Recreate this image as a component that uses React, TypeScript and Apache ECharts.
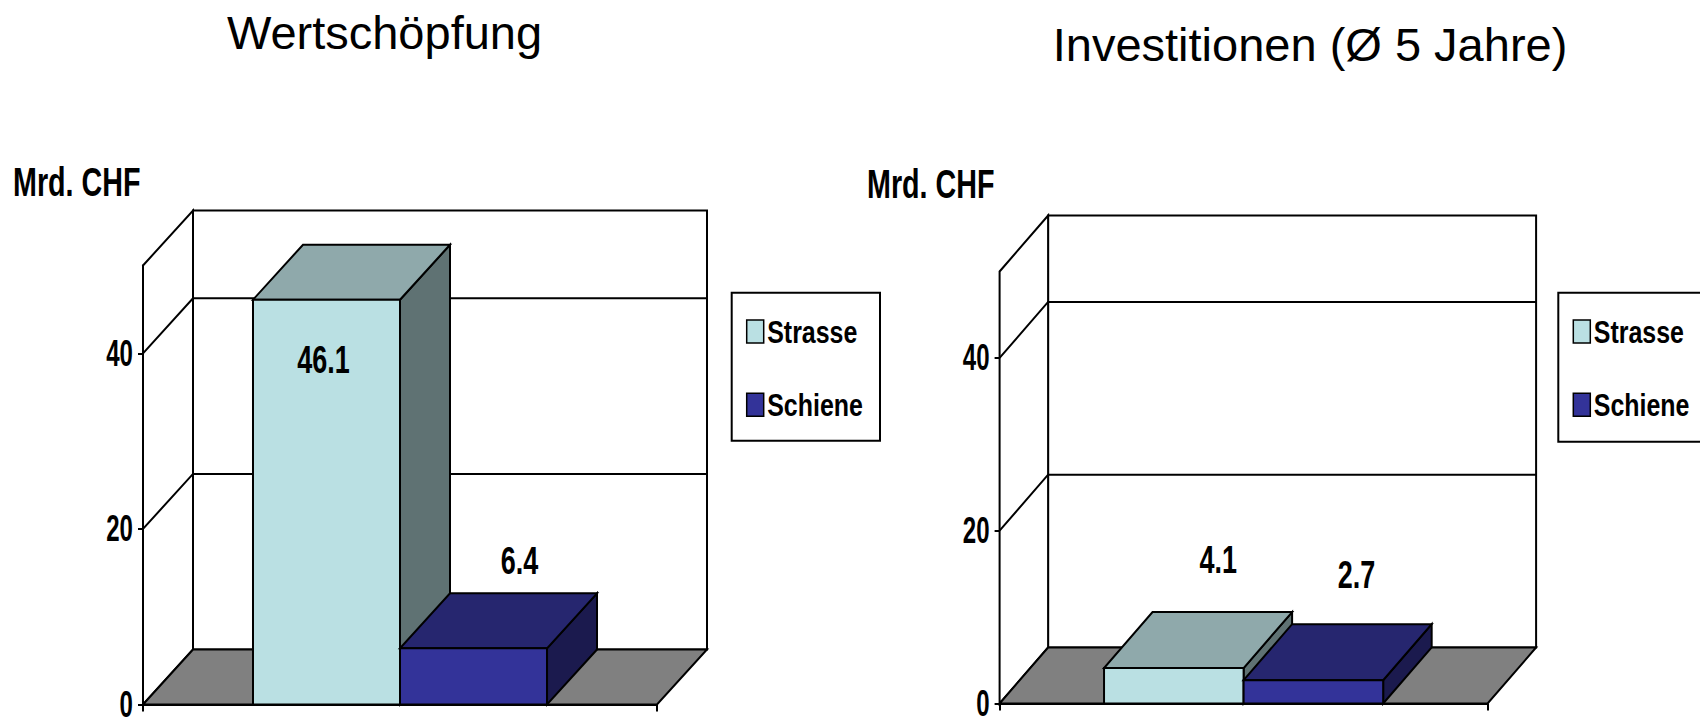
import React, { useEffect, useRef } from "react";
import * as echarts from "echarts";

// ---- data ----
const categories = [""];
const seriesNames = ["Strasse", "Schiene"];
const wertschoepfungStrasse = [46.1];
const wertschoepfungSchiene = [6.4];
const investitionenStrasse = [4.1];
const investitionenSchiene = [2.7];
const yTickValues = [0, 20, 40];
const yGridValues = [20, 40];
const yMax = 50;
const unitLabel = "Mrd. CHF";

// ---- styling ----
// Bold labels are set in a condensed look by squeezing Liberation Sans Bold horizontally.
const BOLD = "'Liberation Sans', Arial, sans-serif";
const REGULAR = "'Liberation Sans', Arial, sans-serif";
const faceColors = [
  { front: "#BAE0E3", top: "#8FA9AB", side: "#5F7273" },
  { front: "#333399", top: "#26266F", side: "#1B1A4E" },
];
const FLOOR = "#808080";
const EDGE = 2;
const BAR_RATIO = 0.286;

const panels = [
  {
    title: "Wertschöpfung",
    titlePos: [384.5, 32],
    unitPos: [13, 182],
    grid: { left: 143, top: 265.5, width: 514, height: 439 },
    depth: [50, -55],
    values: [wertschoepfungStrasse, wertschoepfungSchiene],
    labelOffsets: [[-3, 60], [46, -88]],
    legendBox: [731.7, 292.7, 148.3, 148],
  },
  {
    title: "Investitionen (Ø 5 Jahre)",
    titlePos: [1310, 44],
    unitPos: [867, 184],
    grid: { left: 999.6, top: 271.5, width: 488, height: 432 },
    depth: [48.5, -56],
    values: [investitionenStrasse, investitionenSchiene],
    labelOffsets: [[44.5, -108], [43, -105]],
    legendBox: [1558.3, 292.7, 160, 149],
  },
];

function boldText(text: string, x: number, y: number, size: number, squeeze: number, align: string) {
  return {
    type: "text",
    x,
    y,
    scaleX: squeeze,
    style: {
      text,
      fill: "#000",
      fontSize: size,
      fontWeight: "bold",
      fontFamily: BOLD,
      align,
      verticalAlign: "middle",
      textAlign: align,
      textVerticalAlign: "middle",
    },
  };
}

function frameRenderer(depth: number[]) {
  return (params: any, api: any) => {
    const cs = params.coordSys;
    const gx = cs.x, gy = cs.y, gw = cs.width, gh = cs.height;
    const [dx, dy] = depth;
    const line = { stroke: "#000", lineWidth: EDGE };
    const children: any[] = [
      {
        type: "rect",
        shape: { x: gx + dx, y: gy + dy, width: gw, height: gh },
        style: { fill: "#fff", ...line },
      },
      {
        type: "polygon",
        shape: { points: [[gx, gy], [gx + dx, gy + dy], [gx + dx, gy + gh + dy], [gx, gy + gh]] },
        style: { fill: "#fff", ...line },
      },
      {
        type: "polygon",
        shape: {
          points: [[gx, gy + gh], [gx + gw, gy + gh], [gx + gw + dx, gy + gh + dy], [gx + dx, gy + gh + dy]],
        },
        style: { fill: FLOOR, ...line },
      },
    ];
    yGridValues.forEach((v) => {
      const y = api.coord([0, v])[1];
      children.push({
        type: "polyline",
        shape: { points: [[gx, y], [gx + dx, y + dy], [gx + gw + dx, y + dy]] },
        style: { fill: null, ...line },
      });
    });
    // value-axis tick labels, placed by the axis scale
    yTickValues.forEach((v) => {
      const y = api.coord([0, v])[1];
      children.push(boldText(String(v), gx - 10, y, 37, 0.65, "right"));
    });
    return { type: "group", children };
  };
}

function barRenderer(seriesIdx: number, nSeries: number, depth: number[], labelOffset: number[]) {
  const c = faceColors[seriesIdx];
  return (params: any, api: any) => {
    const cat = api.value(0);
    const val = api.value(1);
    const base = api.coord([cat, 0]);
    const top = api.coord([cat, val]);
    const bw = api.size([1, 0])[0] * BAR_RATIO;
    const x0 = base[0] - (bw * nSeries) / 2 + seriesIdx * bw;
    const x1 = x0 + bw;
    const yb = base[1];
    const yt = top[1];
    const [dx, dy] = depth;
    const line = { stroke: "#000", lineWidth: EDGE };
    return {
      type: "group",
      children: [
        {
          type: "polygon",
          shape: { points: [[x1, yt], [x1 + dx, yt + dy], [x1 + dx, yb + dy], [x1, yb]] },
          style: { fill: c.side, ...line },
        },
        {
          type: "polygon",
          shape: { points: [[x0, yt], [x1, yt], [x1 + dx, yt + dy], [x0 + dx, yt + dy]] },
          style: { fill: c.top, ...line },
        },
        {
          type: "rect",
          shape: { x: x0, y: yt, width: bw, height: yb - yt },
          style: { fill: c.front, ...line },
        },
        boldText(val.toFixed(1), (x0 + x1) / 2 + labelOffset[0], yt + labelOffset[1], 38, 0.71, "center"),
      ],
    };
  };
}

export default function App() {
  const ref = useRef<HTMLDivElement>(null);

  useEffect(() => {
    if (!ref.current) return;
    const chart = echarts.init(ref.current, null, { renderer: "svg" });

    const series: any[] = [];
    panels.forEach((p, i) => {
      series.push({
        type: "custom",
        name: "frame" + i,
        xAxisIndex: i,
        yAxisIndex: i,
        silent: true,
        z: 1,
        data: [[0, 0]],
        encode: { x: 0, y: 1 },
        renderItem: frameRenderer(p.depth),
      });
      p.values.forEach((vals, s) => {
        series.push({
          type: "custom",
          name: seriesNames[s],
          xAxisIndex: i,
          yAxisIndex: i,
          z: 2 + s,
          itemStyle: { color: faceColors[s].front },
          data: vals.map((v, k) => [k, v]),
          encode: { x: 0, y: 1 },
          renderItem: barRenderer(s, p.values.length, p.depth, p.labelOffsets[s]),
        });
      });
    });

    const graphic: any[] = [];
    panels.forEach((p) => {
      graphic.push({
        type: "text",
        x: p.titlePos[0],
        y: p.titlePos[1],
        style: {
          text: p.title,
          fill: "#000",
          fontSize: 47,
          fontFamily: REGULAR,
          align: "center",
          verticalAlign: "middle",
          textAlign: "center",
          textVerticalAlign: "middle",
        },
      });
      graphic.push(boldText(unitLabel, p.unitPos[0], p.unitPos[1], 41, 0.7, "left"));

      // legend box with swatches
      const [lx, ly, lw, lh] = p.legendBox;
      const legendChildren: any[] = [
        {
          type: "rect",
          shape: { x: 0, y: 0, width: lw, height: lh },
          style: { fill: "#fff", stroke: "#000", lineWidth: EDGE },
        },
      ];
      seriesNames.forEach((name, s) => {
        const sy = 27.3 + s * 73.3;
        legendChildren.push({
          type: "rect",
          shape: { x: 15, y: sy, width: 17, height: 23 },
          style: { fill: faceColors[s].front, stroke: "#000", lineWidth: 1.5 },
        });
        legendChildren.push(boldText(name, 35.5, sy + 11.5, 32, 0.78, "left"));
      });
      graphic.push({ type: "group", x: lx, y: ly, children: legendChildren });
    });

    chart.setOption({
      animation: false,
      backgroundColor: "#fff",
      grid: panels.map((p) => ({ ...p.grid, containLabel: false })),
      xAxis: panels.map((p, i) => ({
        type: "category",
        gridIndex: i,
        data: categories,
        boundaryGap: true,
        axisLine: { show: true, lineStyle: { color: "#000", width: EDGE } },
        axisTick: { show: true, length: 7, lineStyle: { color: "#000", width: EDGE } },
        axisLabel: { show: false },
        splitLine: { show: false },
      })),
      yAxis: panels.map((p, i) => ({
        type: "value",
        gridIndex: i,
        min: 0,
        max: yMax,
        interval: 10,
        axisLine: { show: true, lineStyle: { color: "#000", width: EDGE } },
        axisTick: { show: true, length: 5, customValues: yTickValues, lineStyle: { color: "#000", width: EDGE } },
        axisLabel: { show: false },
        splitLine: { show: false },
      })),
      graphic,
      series,
    });

    return () => chart.dispose();
  }, []);

  return (
    <div
      ref={ref}
      style={{ position: "absolute", left: 0, top: 0, width: 1700, height: 718 }}
    />
  );
}
